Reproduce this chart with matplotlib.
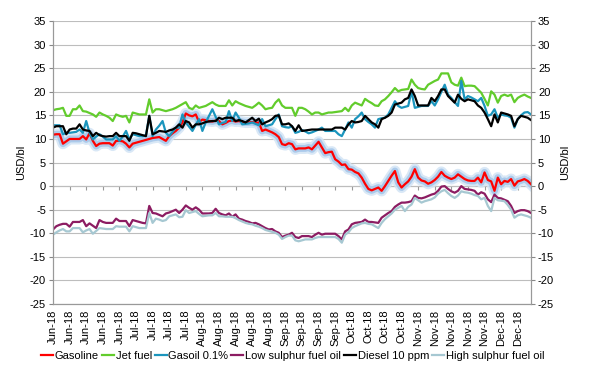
import numpy as np
import pandas as pd
import matplotlib
matplotlib.use('Agg')
import matplotlib.pyplot as plt
import matplotlib.patheffects as pe

# business days, Jun-18 .. Dec-18
dates = pd.bdate_range('2018-06-01', periods=145)
tick_idx = list(range(0, 145, 5))
tick_labels = [dates[i].strftime('%b-%y') for i in tick_idx]

gasoline = [
    10.9, 11.0, 11.0, 9.0, 9.5,
    10.0, 10.0, 10.0, 10.0, 10.6,
    9.9, 11.2, 9.6, 8.5, 9.0,
    9.1, 9.1, 9.1, 8.6, 9.6,
    9.6, 9.5, 9.0, 8.2, 9.0,
    9.2, 9.4, 9.6, 9.8, 10.0,
    10.2, 10.3, 10.4, 10.0, 9.6,
    10.6, 11.2, 11.7, 12.4, 13.5,
    15.4, 15.0, 14.8, 15.2, 13.6,
    14.1, 14.0, 13.8, 13.7, 13.9,
    13.8, 13.1, 13.4, 13.8, 13.9,
    13.7, 13.8, 13.6, 13.5, 13.5,
    13.6, 13.4, 13.5, 11.7, 12.0,
    11.7, 11.4, 11.0, 10.4, 8.9,
    8.7, 9.1, 8.9, 7.8, 8.0,
    8.0, 8.0, 8.2, 7.8, 8.6,
    9.4, 8.2, 7.0, 7.2, 7.3,
    5.7, 5.2, 4.5, 4.6, 3.6,
    3.5, 3.0, 2.7, 1.8, 0.5,
    -0.6, -0.9, -0.6, -0.3, -1.0,
    0.0, 1.1, 2.2, 3.2, 0.8,
    -0.3, 0.4, 1.0, 2.0, 3.6,
    1.8, 1.2, 1.0, 0.5, 0.8,
    1.3, 2.0, 3.0, 2.2, 1.8,
    1.5, 1.8, 2.5, 2.0, 1.5,
    1.2, 1.1, 1.1, 1.8, 0.8,
    2.9, 1.3, 1.0, -1.0, 1.8,
    0.4, 1.1, 0.9, 1.5, 0.1,
    1.0, 1.2, 1.5, 1.1, 0.4,
]

jet_fuel = [
    16.1, 16.3, 16.4, 16.6, 14.9,
    14.9, 16.3, 16.3, 17.1, 15.9,
    15.8, 15.5, 15.2, 14.7, 15.6,
    15.2, 14.9, 14.5, 13.8, 15.2,
    14.9, 14.7, 14.9, 13.5, 15.6,
    15.4, 15.2, 15.2, 15.2, 18.4,
    15.6, 16.3, 16.3, 16.1, 15.9,
    16.1, 16.3, 16.6, 17.0, 17.4,
    17.8, 16.6, 16.3, 17.1, 16.6,
    16.8, 17.0, 17.4, 17.8, 17.3,
    17.0, 17.0, 17.0, 18.2, 17.1,
    18.0, 17.6, 17.3, 17.0, 16.8,
    16.6, 17.1, 17.7, 17.1, 16.3,
    16.5, 16.6, 17.7, 18.4, 17.1,
    16.6, 16.6, 16.6, 14.9, 16.6,
    16.6, 16.3, 15.8, 15.2, 15.6,
    15.6, 15.2, 15.4, 15.6, 15.6,
    15.7, 15.8, 15.9, 16.6, 15.9,
    17.1, 17.7, 17.4, 17.1, 18.5,
    18.0, 17.6, 17.1, 17.0, 18.0,
    18.4, 19.1, 19.9, 20.8, 20.1,
    20.4, 20.5, 20.6, 22.6, 21.5,
    20.8, 20.6, 20.5, 21.5, 21.9,
    22.3, 22.6, 23.9, 23.9, 23.9,
    22.0, 21.5, 21.3, 23.0, 21.2,
    21.3, 21.3, 21.2, 20.5, 19.8,
    18.5, 17.1, 20.1, 19.4, 17.7,
    19.1, 19.4, 19.1, 19.4, 17.8,
    18.7, 19.1, 19.4, 19.0, 18.7,
]

gasoil = [
    12.9, 12.9, 12.9, 11.0, 11.3,
    11.3, 11.4, 11.5, 12.0, 11.3,
    13.8, 11.3, 9.9, 10.5, 11.0,
    10.5, 9.9, 9.9, 9.9, 10.6,
    9.6, 10.5, 11.7, 9.9, 11.0,
    10.8, 10.6, 10.6, 10.8, 14.9,
    10.6, 12.0, 12.8, 13.8, 11.3,
    10.6, 11.5, 12.4, 12.4, 15.2,
    13.5, 12.6, 11.7, 13.0, 14.2,
    11.7, 13.5, 14.9, 16.3, 14.7,
    13.1, 13.4, 13.6, 15.9, 13.8,
    15.6, 14.5, 13.1, 13.2, 13.3,
    13.5, 13.2, 12.9, 14.2, 12.7,
    12.9, 13.1, 14.2, 15.2, 12.7,
    12.5, 12.4, 12.7, 11.3, 11.5,
    11.9, 11.6, 11.2, 11.4, 11.7,
    12.0, 12.4, 11.7, 11.7, 11.7,
    11.7, 11.0, 10.6, 12.0, 13.5,
    12.4, 14.2, 14.8, 15.6, 14.2,
    13.6, 13.1, 12.4, 14.2, 14.4,
    14.5, 15.2, 16.6, 18.0, 17.0,
    16.6, 16.8, 17.0, 20.1, 16.6,
    16.8, 17.0, 17.0, 17.0, 18.0,
    17.1, 18.4, 20.0, 21.5, 19.4,
    18.7, 17.8, 17.0, 22.3, 18.4,
    19.1, 18.8, 18.4, 18.0, 18.7,
    17.0, 14.9, 15.2, 16.3, 14.5,
    15.2, 15.0, 14.9, 14.5, 12.4,
    14.2, 15.0, 15.6, 15.7, 15.2,
]

low_sulphur = [
    -9.2, -8.5, -8.2, -8.0, -8.0,
    -8.6, -7.6, -7.6, -7.6, -7.2,
    -8.5, -7.9, -8.4, -8.9, -7.2,
    -7.6, -7.8, -7.8, -7.8, -6.9,
    -7.4, -7.4, -7.4, -8.5, -7.2,
    -7.4, -7.6, -7.8, -7.9, -4.2,
    -5.7, -5.8, -6.1, -6.4, -5.8,
    -5.6, -5.3, -5.0, -5.7, -5.0,
    -4.1, -4.6, -5.0, -4.5, -5.0,
    -5.8, -5.8, -5.8, -5.7, -4.8,
    -5.7, -6.0, -6.2, -5.8, -6.5,
    -6.0, -6.9, -7.1, -7.4, -7.6,
    -7.9, -7.8, -8.1, -8.5, -8.9,
    -9.2, -9.1, -9.6, -9.9, -10.8,
    -10.5, -10.3, -9.9, -10.8, -11.0,
    -10.6, -10.6, -10.6, -10.8, -10.3,
    -9.9, -10.3, -10.1, -10.1, -10.1,
    -10.1, -10.6, -11.3, -9.6, -9.2,
    -8.1, -7.8, -7.7, -7.6, -7.1,
    -7.6, -7.6, -7.7, -7.8, -6.7,
    -6.2, -5.7, -5.3, -4.4, -3.9,
    -3.5, -3.5, -3.4, -3.2, -2.0,
    -2.5, -2.6, -2.4, -2.1, -1.8,
    -1.6, -1.0, -0.1, 0.0, -0.6,
    -1.1, -1.4, -1.0, 0.0, -0.6,
    -0.7, -0.8, -1.0, -1.8, -1.3,
    -1.6, -2.8, -3.4, -1.8, -2.5,
    -2.6, -2.9, -3.2, -4.2, -5.7,
    -5.3, -5.1, -5.1, -5.3, -5.7,
]

diesel = [
    12.4, 12.7, 12.7, 12.7, 11.0,
    12.0, 12.2, 12.2, 13.1, 12.0,
    11.8, 11.7, 10.6, 11.3, 10.8,
    10.6, 10.5, 10.6, 10.6, 11.3,
    10.6, 10.6, 10.6, 9.6, 11.3,
    11.2, 11.0, 10.8, 10.6, 14.9,
    11.0, 11.3, 11.7, 11.6, 11.5,
    11.8, 12.0, 12.4, 13.1, 12.4,
    13.8, 13.5, 12.4, 13.1, 13.1,
    13.3, 13.6, 13.7, 13.8, 13.8,
    14.5, 14.2, 14.5, 14.5, 14.5,
    13.8, 14.0, 13.8, 13.5, 14.0,
    14.5, 13.8, 14.3, 13.1, 13.5,
    13.8, 14.2, 14.9, 15.0, 13.1,
    13.1, 13.3, 12.7, 11.7, 12.9,
    11.7, 11.8, 11.9, 12.0, 12.0,
    12.0, 12.0, 12.0, 12.0, 12.0,
    12.4, 12.4, 12.4, 12.0, 13.1,
    13.8, 13.5, 13.6, 13.8, 14.9,
    14.2, 13.5, 13.1, 12.4, 14.2,
    14.5, 14.9, 15.6, 17.3, 17.5,
    17.7, 18.4, 18.7, 20.5, 19.1,
    17.1, 17.1, 17.1, 17.1, 18.7,
    18.0, 19.1, 20.5, 20.5, 19.1,
    18.4, 17.7, 19.4, 18.5, 18.0,
    18.4, 18.2, 18.0, 17.1, 16.6,
    15.6, 14.2, 12.7, 15.2, 13.5,
    15.6, 15.4, 15.2, 14.9, 12.7,
    14.2, 14.9, 14.7, 14.5, 14.0,
]

high_sulphur = [
    -10.3, -9.8, -9.4, -9.1, -9.6,
    -9.6, -8.9, -8.9, -8.9, -9.8,
    -9.4, -9.1, -10.1, -9.5, -8.9,
    -9.0, -9.1, -9.1, -9.1, -8.5,
    -8.6, -8.6, -8.6, -9.6, -8.5,
    -8.7, -8.9, -8.9, -8.9, -5.7,
    -7.8, -6.9, -7.1, -7.4, -7.2,
    -6.4, -6.2, -6.0, -6.6, -6.5,
    -5.1, -5.7, -5.5, -5.3, -5.9,
    -6.4, -6.3, -6.2, -6.2, -5.7,
    -6.4, -6.4, -6.5, -6.5, -6.5,
    -6.8, -7.2, -7.5, -7.8, -8.0,
    -8.1, -8.4, -8.6, -8.9, -9.3,
    -9.5, -9.7, -9.9, -10.3, -11.2,
    -10.8, -10.5, -10.5, -11.5, -11.7,
    -11.5, -11.3, -11.3, -11.3, -11.0,
    -10.8, -10.8, -10.8, -10.8, -10.8,
    -10.8, -11.2, -12.0, -10.3, -9.8,
    -8.9, -8.5, -8.2, -7.9, -7.8,
    -8.0, -8.1, -8.5, -8.9, -7.8,
    -7.0, -6.4, -5.8, -5.0, -4.6,
    -4.2, -5.3, -4.4, -3.9, -2.5,
    -3.0, -3.5, -3.2, -3.0, -2.8,
    -2.4, -1.6, -1.1, -0.8, -1.5,
    -2.1, -2.5, -2.0, -1.1, -1.3,
    -1.4, -1.6, -1.9, -2.1, -2.8,
    -2.5, -4.2, -5.3, -2.5, -3.0,
    -3.1, -3.2, -4.0, -5.0, -6.7,
    -6.2, -6.0, -6.2, -6.4, -6.7,
]

plt.rcParams['font.family'] = ['Liberation Sans', 'DejaVu Sans']
plt.rcParams['font.size'] = 8
plt.rcParams['axes.unicode_minus'] = False

fig = plt.figure(figsize=(5.91, 3.90), dpi=100)
ax = fig.add_axes([0.0897, 0.2205, 0.8088, 0.7255])
x = np.arange(len(dates))

glow = [pe.Stroke(linewidth=8, foreground='#d3e4f5', alpha=0.85),
        pe.Stroke(linewidth=5, foreground='#a3c5ea', alpha=0.85),
        pe.Normal()]

ax.plot(x, gasoline, color='#ff0000', lw=1.6, label='Gasoline', path_effects=glow)
ax.plot(x, jet_fuel, color='#62cc2c', lw=1.6, label='Jet fuel')
ax.plot(x, gasoil, color='#1b95bd', lw=1.6, label='Gasoil 0.1%')
ax.plot(x, low_sulphur, color='#8c1c62', lw=1.6, label='Low sulphur fuel oil')
ax.plot(x, diesel, color='#000000', lw=1.6, label='Diesel 10 ppm')
ax.plot(x, high_sulphur, color='#a6c8d2', lw=1.6, label='High sulphur fuel oil')

ax.set_xlim(0, 144)
ax.set_ylim(-25, 35)
yt = np.arange(-25, 36, 5)
ax.set_yticks(yt)
ax.grid(axis='y', color='#bdbdbd', lw=0.8)
ax.set_axisbelow(True)
ax.set_xticks(tick_idx)
ax.set_xticklabels(tick_labels, rotation=90)
ax.tick_params(axis='x', length=0, pad=4)
ax.tick_params(axis='y', length=3, color='#888888', pad=2)
ax.spines['top'].set_visible(False)
for s in ['left', 'right', 'bottom']:
    ax.spines[s].set_color('#999999')
ax.set_ylabel('USD/bl', labelpad=3)

# horizontal axis crosses at zero, tick marks hang from it
sec = ax.secondary_xaxis(0, transform=ax.transData)
sec.set_xticks(tick_idx)
sec.set_xticklabels([])
sec.tick_params(axis='x', length=3, color='#999999')
sec.spines['bottom'].set_color('#aaaaaa')

ax2 = ax.twinx()
ax2.set_ylim(-25, 35)
ax2.set_yticks(yt)
ax2.tick_params(axis='y', length=3, color='#888888', pad=2)
ax2.spines['top'].set_visible(False)
for s in ['left', 'right', 'bottom']:
    ax2.spines[s].set_color('#999999')
ax2.set_ylabel('USD/bl', labelpad=4)

handles, labels = ax.get_legend_handles_labels()
handles[0] = plt.Line2D([], [], color='#ff0000', lw=1.6)
fig.legend(handles, labels, loc='center', bbox_to_anchor=(0.495, 0.088), ncol=6,
           frameon=False, handlelength=1.1, handletextpad=0.15, columnspacing=0.25,
           borderaxespad=0)

fig.savefig('out.png', dpi=100)
